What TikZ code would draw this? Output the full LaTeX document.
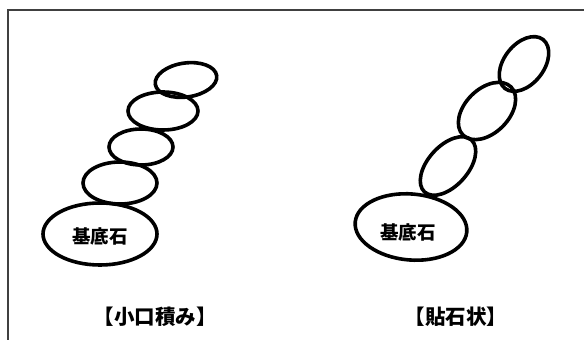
\documentclass[tikz,border=0pt]{standalone}
\usepackage{fontspec}
\newfontfamily\jpfont{Noto Sans CJK JP}
\usetikzlibrary{shapes.geometric}

\begin{document}
\begin{tikzpicture}[x=1pt, y=1pt,
    stone/.style={ellipse, draw=black, line width=3.6pt, inner sep=0pt},
    label/.style={font=\jpfont\bfseries\fontsize{20.5}{20.5}\selectfont},
    stonetext/.style={font=\jpfont\bfseries\fontsize{18.5}{18.5}\selectfont}]
    \useasboundingbox (0,0) rectangle (584,340);

    % Frame (top and left edges)
    \draw[line width=1.5pt, black!75] (8,0) -- (8,330) -- (584,330);

    % Left wall: small stones laid on the base stone
    \node[stone, minimum width=114pt, minimum height=62pt] (baseL) at (100,106) {};
    \node[stone, minimum width=74pt, minimum height=42pt] (l1) at (120,157) {};
    \node[stone, minimum width=64pt, minimum height=36pt] (l2) at (141,193) {};
    \node[stone, minimum width=70pt, minimum height=38pt] (l3) at (163,229) {};
    \node[stone, minimum width=62pt, minimum height=34pt, rotate=8] (l4) at (186,260) {};
    \node[stonetext] (baseLtext) at (100,104) {基底石};

    % Right wall: slanted stones leaning on the base stone
    \node[stone, minimum width=112pt, minimum height=66pt, rotate=-5] (baseR) at (411,113) {};
    \node[stone, minimum width=70pt, minimum height=40pt, rotate=48] (r1) at (448,174) {};
    \node[stone, minimum width=68pt, minimum height=44pt, rotate=45] (r2) at (487,229) {};
    \node[stone, minimum width=62pt, minimum height=40pt, rotate=52] (r3) at (524,276) {};
    \node[stonetext] (baseRtext) at (408,108) {基底石};

    % Captions
    \node[label] (capL) at (155,23) {【小口積み】};
    \node[label] (capR) at (456,23) {【貼石状】};
\end{tikzpicture}
\end{document}
